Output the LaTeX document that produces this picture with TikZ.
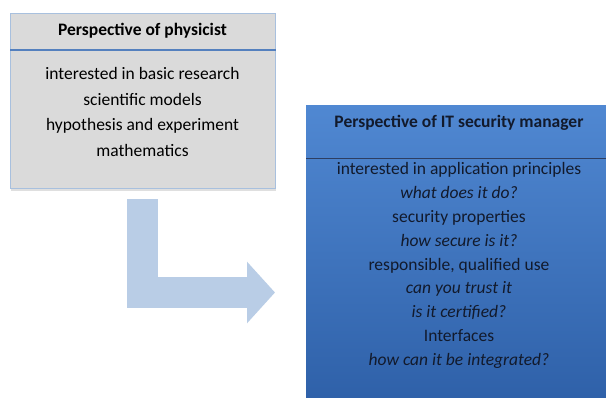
\documentclass[tikz,border=0pt]{standalone}
\usepackage{fontspec}
\setmainfont{Carlito}
\usetikzlibrary{arrows.meta, positioning, shadows}

\definecolor{physfill}{RGB}{218,218,218}
\definecolor{physedge}{RGB}{168,192,222}
\definecolor{physline}{RGB}{84,128,190}
\definecolor{sectop}{RGB}{80,136,210}
\definecolor{secbottom}{RGB}{46,96,168}
\definecolor{secline}{RGB}{45,62,98}
\definecolor{sectext}{RGB}{18,26,44}
\definecolor{bendfill}{RGB}{185,205,230}

\begin{document}
\begin{tikzpicture}[x=1pt, y=-1pt,
    physbox/.style={draw=physedge, fill=physfill, line width=1.2pt, minimum width=265pt, minimum height=175pt, anchor=north west,
        drop shadow={shadow xshift=0pt, shadow yshift=-2pt, opacity=0.25}},
    secbox/.style={top color=sectop, bottom color=secbottom, minimum width=310pt, minimum height=300pt, anchor=north west},
    headtext/.style={font=\fontsize{17.5}{20}\selectfont\bfseries},
    bodytext/.style={align=center, font=\fontsize{17.5}{25.5}\selectfont},
    bentarrow/.style={draw=bendfill, line width=31pt, -{Triangle[length=28pt, width=60pt]}}
]
    \clip (0,0) rectangle (606,398);
    \fill[white] (0,0) rectangle (606,398);

    % physicist
    \node [physbox] (phys) at (10,13) {};
    \node [headtext] (physhead) at (142.5,31) {Perspective of physicist};
    \draw [physline, line width=1.6pt] ([yshift=-37pt]phys.north west) -- ([yshift=-37pt]phys.north east);
    \node [bodytext] (physbody) at (142.5,112) {interested in basic research\\scientific models\\hypothesis and experiment\\mathematics};

    % IT security manager
    \node [secbox] (sec) at (306,105) {};
    \node [headtext, text=sectext, font=\fontsize{17.5}{20}\selectfont\bfseries] (sechead) at (459,123) {Perspective of IT security manager};
    \draw [secline, line width=0.6pt] ([yshift=-53pt]sec.north west) -- ([yshift=-53pt]sec.north east);
    \node [bodytext, text=sectext, font=\fontsize{17.5}{23.9}\selectfont] (secbody) at (459,265.5) {interested in application principles\\\textit{what does it do?}\\security properties\\\textit{how secure is it?}\\responsible, qualified use\\\textit{can you trust it}\\\textit{is it certified?}\\Interfaces\\\textit{how can it be integrated?}};

    \coordinate (bendend) at (275,292.5);
    \draw [bentarrow] ([xshift=-1pt, yshift=-10pt]phys.south) |- (bendend);
\end{tikzpicture}
\end{document}
